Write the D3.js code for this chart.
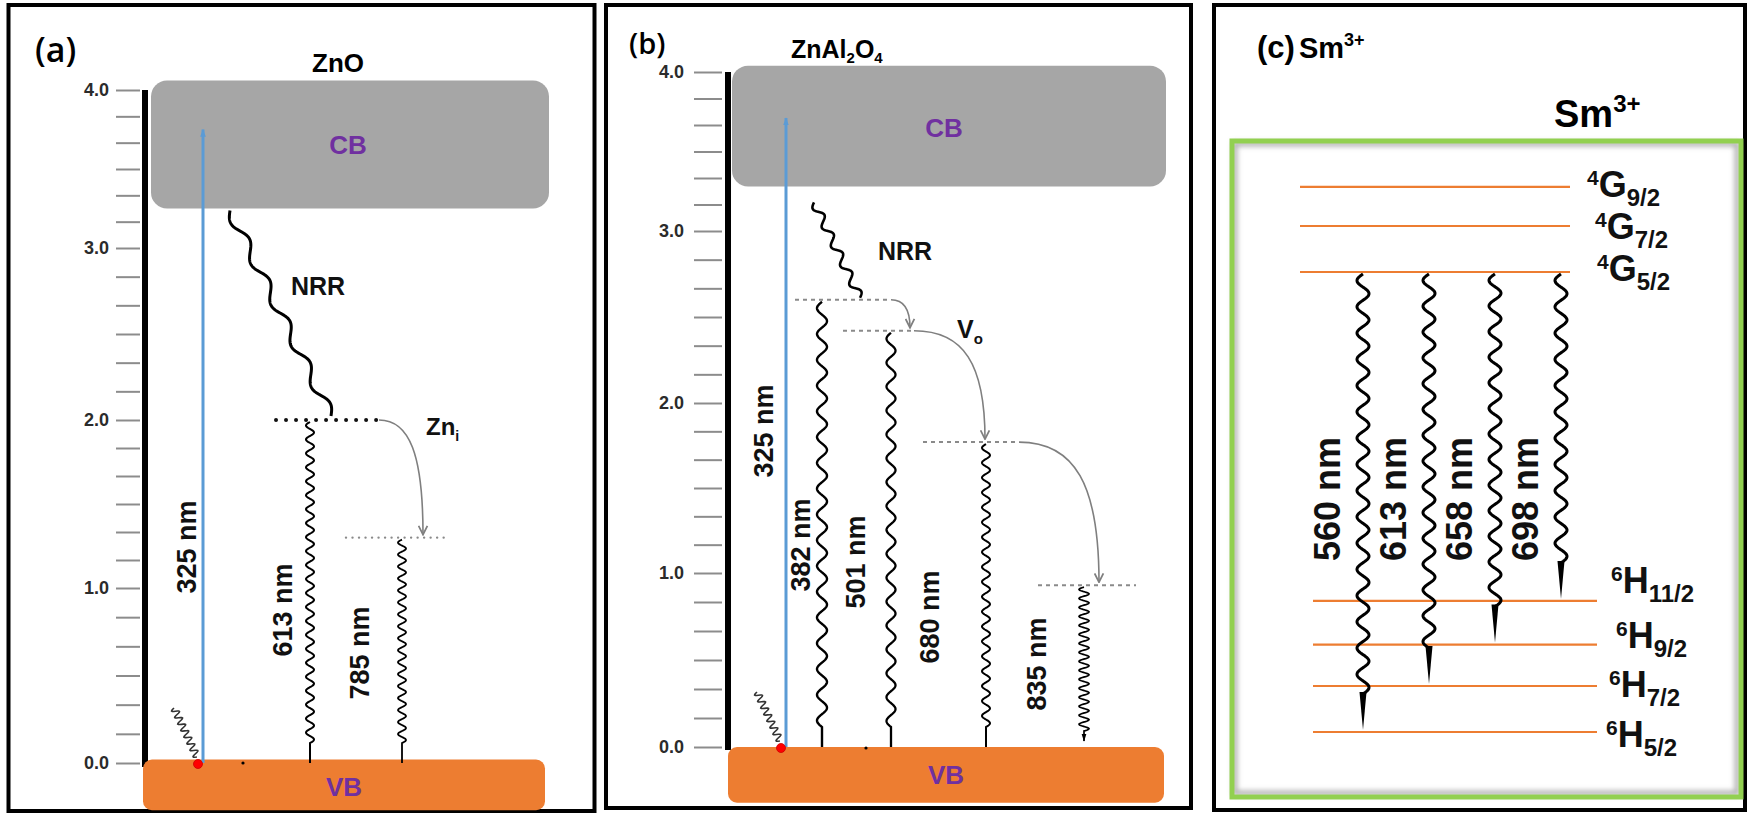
<!DOCTYPE html>
<html>
<head>
<meta charset="utf-8">
<script src="https://cdn.jsdelivr.net/npm/d3@7"></script>
<style>
  html, body { margin: 0; padding: 0; background: #fff; }
  svg { display: block; }
  text { font-family: "Liberation Sans", Arial, Helvetica, sans-serif; font-weight: bold; }
</style>
</head>
<body>
<svg id="chart" width="1749" height="814"></svg>
<script>
// ---------------- data ----------------
// energy axis shared by panels (a) and (b), in eV
const axisTicks = [0, 1, 2, 3, 4];
const axisTickLabels = ["0.0", "1.0", "2.0", "3.0", "4.0"];
const minorDivisions = 6;

// (a) ZnO
const znoCB = [3.25, 4.06];
const znoVB = [-0.27, 0.02];
const znoExcitation = [0, 3.75];          // 325 nm pump
const znoExcitationNm = 325;
const znoNRR = [3.25, 2.0];
const znoDefectE = [2.0, 1.30];           // Zn_i and the lower trap
const znoEmissionNm = [613, 785];
const znoEmissionFrom = [2.0, 1.30];

// (b) ZnAl2O4
const spinelCB = [3.28, 4.04];
const spinelVB = [-0.32, 0.0];
const spinelExcitation = [0, 3.71];
const spinelExcitationNm = 325;
const spinelNRR = [3.18, 2.60];
const spinelDefectE = [2.60, 2.42, 1.77, 0.93];
const spinelEmissionNm = [382, 501, 680, 835];
const spinelEmissionFrom = [2.60, 2.42, 1.77, 0.93];

// (c) Sm3+ levels (relative energy units) and emissions from 4G5/2
const smLevels = ["6H5/2", "6H7/2", "6H9/2", "6H11/2", "4G5/2", "4G7/2", "4G9/2"];
const smLevelE = [0, 1.0, 1.9, 2.85, 10.0, 11.0, 11.85];
const smEmissionNm = [560, 613, 658, 698];
const smEmissionTo = ["6H5/2", "6H7/2", "6H9/2", "6H11/2"];
const smEmitter = "4G5/2";

// ---------------- layout & style ----------------
const C = {
  black: "#000", grey: "#7f7f7f", tick: "#8c8c8c", band: "#a6a6a6",
  vb: "#ed7d31", purple: "#7030a0", blue: "#5b9bd5", red: "#ff0000",
  level: "#ed7d31", green: "#92d050"
};

const A = {
  frame: [8.5, 5, 586, 806],
  yRange: [763, 588, 420, 248, 90],
  axisX: 140, tickLen: 24, tickPad: 7, spineX: 145, spineBottom: 767,
  cbX: [151, 549], vbX: [143, 545],
  exciteX: 203, exciteLabelX: 186, exciteLabelY: 547,
  nrrX: [230, 331], nrrLabel: [318, 295],
  defectX: [[276, 379], [346, 444]],
  emitX: [310, 402],
  emitLabel: [[-28, 610], [-43, 653]],
  emitWave: [[14, 4, 2], [12, 4, 1.8]],
  hopTo: [423],
  cbLabel: [348, 145], vbLabel: [344, 787]
};

const B = {
  frame: [606, 5, 585, 803],
  yRange: [747, 573, 403, 231, 72],
  axisX: 722, tickLen: 28, tickPad: 10, spineX: 728, spineBottom: 750,
  cbX: [732, 1166], vbX: [728, 1164],
  exciteX: 786, exciteLabelX: 763, exciteLabelY: 431,
  nrrX: [814, 860], nrrLabel: [905, 260],
  defectX: [[795, 891], [843, 914], [923, 1019], [1038, 1136]],
  emitX: [822, 891, 986, 1084],
  emitLabel: [[-22, 545], [-36, 562], [-57, 617], [-48, 664]],
  emitWave: [[26, 5, 2.4], [24, 4.5, 2.3], [15, 4, 2], [9, 5, 1.7]],
  hopTo: [910, 985, 1099],
  cbLabel: [944, 128], vbLabel: [946, 775]
};

const S = {
  frame: [1214, 5, 531, 805],
  green: [1232, 141, 509, 656],
  yDomain: [0, 12], yRange: [732, 180],
  lineX: { G: [1300, 1570], H: [1313, 1597] },
  labelX: [1606, 1609, 1616, 1611, 1597, 1595, 1587],
  labelDy: [15, 11, 3, -8, 9, 13, 10],
  emitX: [1363, 1561],
  emitLabelDx: -36, emitLabelY: 499,
  wave: [26, 6, 3], spike: 38
};

const svg = d3.select("#chart");
const defs = svg.append("defs");

function addMarker(id, size, pathD, fill, stroke) {
  defs.append("marker")
    .attr("id", id).attr("viewBox", "0 0 10 10")
    .attr("refX", 9).attr("refY", 5)
    .attr("markerUnits", "userSpaceOnUse")
    .attr("markerWidth", size).attr("markerHeight", size)
    .attr("orient", "auto")
    .append("path").attr("d", pathD)
    .attr("fill", fill).attr("stroke", stroke).attr("stroke-width", 1.6);
}
addMarker("hop", 11, "M1,1 L9,5 L1,9", "none", C.grey);
addMarker("pump", 8, "M0,1.5 L10,5 L0,8.5 Z", C.blue, "none");
addMarker("emit", 8, "M0,2 L10,5 L0,8 Z", C.black, "none");

const shadow = defs.append("filter").attr("id", "soft").attr("x", "-5%").attr("y", "-5%")
  .attr("width", "110%").attr("height", "110%");
shadow.append("feGaussianBlur").attr("stdDeviation", 2.5);

// wavy path between two points; the wave is fitted to whole half-periods
function wavePath(x0, y0, x1, y1, period, amp, tail = 0) {
  const dx = x1 - x0, dy = y1 - y0, len = Math.hypot(dx, dy);
  const ux = dx / len, uy = dy / len, nx = -uy, ny = ux;
  const waveLen = len - tail;
  const halves = Math.max(1, Math.round(waveLen / (period / 2)));
  const p = 2 * waveLen / halves;
  const pts = [];
  for (let s = 0; s <= waveLen + 0.01; s += 0.6) {
    const o = amp * Math.sin(2 * Math.PI * s / p);
    pts.push([x0 + ux * s + nx * o, y0 + uy * s + ny * o]);
  }
  pts.push([x0 + ux * waveLen, y0 + uy * waveLen]);
  if (tail > 0) pts.push([x1, y1]);
  return d3.line()(pts);
}

function frame(g, f) {
  g.append("rect").attr("x", f[0]).attr("y", f[1]).attr("width", f[2]).attr("height", f[3])
    .attr("fill", "none").attr("stroke", C.black).attr("stroke-width", 4);
}

function energyAxis(g, L, y) {
  const minor = [];
  axisTicks.slice(0, -1).forEach(t => {
    d3.range(1, minorDivisions).forEach(k => minor.push(t + k / minorDivisions));
  });
  const minorAxis = d3.axisLeft(y).tickValues(minor).tickSize(L.tickLen).tickFormat("");
  const majorAxis = d3.axisLeft(y).tickValues(axisTicks).tickSize(L.tickLen)
    .tickPadding(L.tickPad).tickFormat((d, i) => axisTickLabels[i]);
  [minorAxis, majorAxis].forEach(ax => {
    const a = g.append("g").attr("transform", `translate(${L.axisX},0)`).call(ax);
    a.select(".domain").remove();
    a.selectAll("line").attr("stroke", C.tick).attr("stroke-width", 2);
    a.selectAll("text").attr("font-size", 18).attr("fill", "#2b2b2b")
      .style("font-family", '"Liberation Sans", Arial, sans-serif');
  });
  g.append("line").attr("x1", L.spineX).attr("x2", L.spineX)
    .attr("y1", y(axisTicks[axisTicks.length - 1])).attr("y2", L.spineBottom)
    .attr("stroke", C.black).attr("stroke-width", 6);
}

function bands(g, L, y, cb, vb) {
  g.append("rect").attr("x", L.cbX[0]).attr("y", y(cb[1]))
    .attr("width", L.cbX[1] - L.cbX[0]).attr("height", y(cb[0]) - y(cb[1]))
    .attr("rx", 16).attr("fill", C.band);
  g.append("rect").attr("x", L.vbX[0]).attr("y", y(vb[1]))
    .attr("width", L.vbX[1] - L.vbX[0]).attr("height", y(vb[0]) - y(vb[1]))
    .attr("rx", 9).attr("fill", C.vb);
  g.append("text").attr("x", L.cbLabel[0]).attr("y", L.cbLabel[1]).attr("dy", "0.35em")
    .attr("text-anchor", "middle").attr("font-size", 26).attr("fill", C.purple).text("CB");
  g.append("text").attr("x", L.vbLabel[0]).attr("y", L.vbLabel[1]).attr("dy", "0.35em")
    .attr("text-anchor", "middle").attr("font-size", 26).attr("fill", C.purple).text("VB");
}

function rotLabel(g, x, y, txt, size) {
  g.append("text").attr("transform", `translate(${x},${y}) rotate(-90)`)
    .attr("text-anchor", "middle").attr("dy", "0.36em")
    .attr("font-size", size).attr("fill", "#111").text(txt);
}

function excitation(g, L, y, ex, nm) {
  g.append("line").attr("x1", L.exciteX).attr("x2", L.exciteX)
    .attr("y1", y(ex[0])).attr("y2", y(ex[1]))
    .attr("stroke", C.blue).attr("stroke-width", 3).attr("marker-end", "url(#pump)");
  rotLabel(g, L.exciteLabelX, L.exciteLabelY, `${nm} nm`, 27);
  // pumped electron at the valence band edge, with its thermalisation squiggle
  g.append("path").attr("d", wavePath(L.exciteX - 29, y(ex[0]) - 55, L.exciteX - 6, y(ex[0]) - 6, 7, 3.5))
    .attr("fill", "none").attr("stroke", "#333").attr("stroke-width", 1.6);
  g.append("circle").attr("cx", L.exciteX - 5).attr("cy", y(ex[0]) + 1).attr("r", 4.5)
    .attr("fill", C.red).attr("stroke", "#c00").attr("stroke-width", 0.8);
}

function emissions(g, L, y, from, nms) {
  from.forEach((e, i) => {
    const x = L.emitX[i], [per, amp, sw] = L.emitWave[i];
    const last = i === from.length - 1 && L === B;
    g.append("path").attr("d", wavePath(x, y(e) + 2, x, y(0) - (last ? 6 : 0), per, amp, last ? 10 : 20))
      .attr("fill", "none").attr("stroke", C.black).attr("stroke-width", sw)
      .attr("marker-end", last ? "url(#emit)" : null);
    rotLabel(g, x + L.emitLabel[i][0], L.emitLabel[i][1], `${nms[i]} nm`, 27);
  });
}

function hop(g, x0, y0, x1, y1) {
  const d = d3.path();
  d.moveTo(x0, y0);
  d.bezierCurveTo(x0 + (x1 - x0) * 0.7, y0, x1, y0 + (y1 - y0) * 0.3, x1, y1 - 3);
  g.append("path").attr("d", d.toString()).attr("fill", "none")
    .attr("stroke", C.grey).attr("stroke-width", 1.6).attr("marker-end", "url(#hop)");
}

// ================= (a) ZnO =================
{
  const g = svg.append("g");
  const y = d3.scaleLinear().domain(axisTicks).range(A.yRange);
  frame(g, A.frame);
  g.append("text").attr("x", 35).attr("y", 62).attr("font-size", 34)
    .style("font-family", '"Open Sans", sans-serif').style("font-weight", 600).text("(a)");
  g.append("text").attr("x", 338).attr("y", 72).attr("text-anchor", "middle")
    .attr("font-size", 26).text("ZnO");
  energyAxis(g, A, y);
  bands(g, A, y, znoCB, znoVB);
  excitation(g, A, y, znoExcitation, znoExcitationNm);

  // non-radiative relaxation from the CB edge to Zn_i
  g.append("path").attr("d", wavePath(A.nrrX[0], y(znoNRR[0]) + 2, A.nrrX[1], y(znoNRR[1]) - 4, 46, 5))
    .attr("fill", "none").attr("stroke", C.black).attr("stroke-width", 3);
  g.append("text").attr("x", A.nrrLabel[0]).attr("y", A.nrrLabel[1]).attr("text-anchor", "middle")
    .attr("font-size", 25).attr("fill", "#111").text("NRR");

  // defect levels
  znoDefectE.forEach((e, i) => {
    const [x0, x1] = A.defectX[i];
    g.append("line").attr("x1", x0).attr("x2", x1).attr("y1", y(e)).attr("y2", y(e))
      .attr("stroke", i === 0 ? "#111" : "#8a8a8a")
      .attr("stroke-width", i === 0 ? 4 : 2.4)
      .attr("stroke-dasharray", i === 0 ? "0.01 10" : "0.01 6.5")
      .attr("stroke-linecap", "round");
  });
  hop(g, A.defectX[0][1], y(znoDefectE[0]), A.hopTo[0], y(znoDefectE[1]));
  const zn = g.append("text").attr("x", 426).attr("y", 435).attr("font-size", 24).attr("fill", "#111");
  zn.append("tspan").text("Zn");
  zn.append("tspan").attr("font-size", 14).attr("dy", 6).text("i");

  emissions(g, A, y, znoEmissionFrom, znoEmissionNm);
  g.append("circle").attr("cx", 243).attr("cy", y(0)).attr("r", 1.6).attr("fill", C.black);
}

// ================= (b) ZnAl2O4 =================
{
  const g = svg.append("g");
  const y = d3.scaleLinear().domain(axisTicks).range(B.yRange);
  frame(g, B.frame);
  g.append("text").attr("x", 629).attr("y", 54).attr("font-size", 29)
    .style("font-family", '"Open Sans", sans-serif').style("font-weight", 600).text("(b)");
  const t = g.append("text").attr("x", 791).attr("y", 58).attr("font-size", 25);
  t.append("tspan").text("ZnAl");
  t.append("tspan").attr("font-size", 15).attr("dy", 5).text("2");
  t.append("tspan").attr("dy", -5).text("O");
  t.append("tspan").attr("font-size", 15).attr("dy", 5).text("4");
  energyAxis(g, B, y);
  bands(g, B, y, spinelCB, spinelVB);
  excitation(g, B, y, spinelExcitation, spinelExcitationNm);

  g.append("path").attr("d", wavePath(B.nrrX[0], y(spinelNRR[0]), B.nrrX[1], y(spinelNRR[1]) - 2, 21, 4))
    .attr("fill", "none").attr("stroke", C.black).attr("stroke-width", 2.6);
  g.append("text").attr("x", B.nrrLabel[0]).attr("y", B.nrrLabel[1]).attr("text-anchor", "middle")
    .attr("font-size", 25).attr("fill", "#111").text("NRR");

  spinelDefectE.forEach((e, i) => {
    const [x0, x1] = B.defectX[i];
    g.append("line").attr("x1", x0).attr("x2", x1).attr("y1", y(e)).attr("y2", y(e))
      .attr("stroke", "#8a8a8a").attr("stroke-width", 2).attr("stroke-dasharray", "4 4");
    if (i < spinelDefectE.length - 1) {
      hop(g, x1, y(e), B.hopTo[i], y(spinelDefectE[i + 1]));
    }
  });
  const vo = g.append("text").attr("x", 957).attr("y", 338).attr("font-size", 25).attr("fill", "#111");
  vo.append("tspan").text("V");
  vo.append("tspan").attr("font-size", 15).attr("dy", 6).text("o");

  emissions(g, B, y, spinelEmissionFrom, spinelEmissionNm);
  g.append("circle").attr("cx", 866).attr("cy", y(0) + 1).attr("r", 1.6).attr("fill", C.black);
}

// ================= (c) Sm3+ =================
{
  const g = svg.append("g");
  const y = d3.scaleLinear().domain(S.yDomain).range(S.yRange);
  const xEmit = d3.scalePoint().domain(smEmissionNm).range(S.emitX);
  const levelE = new Map(smLevels.map((n, i) => [n, smLevelE[i]]));
  frame(g, S.frame);

  const tag = g.append("text").attr("x", 1257).attr("y", 58).attr("font-size", 31);
  tag.append("tspan").text("(c)");
  tag.append("tspan").attr("dx", 4).attr("font-size", 29).text("Sm");
  tag.append("tspan").attr("font-size", 18).attr("dy", -12).text("3+");

  const ttl = g.append("text").attr("x", 1554).attr("y", 127).attr("font-size", 38);
  ttl.append("tspan").text("Sm");
  ttl.append("tspan").attr("font-size", 24).attr("dy", -15).text("3+");

  // frame around the level scheme, with a soft inner shadow
  const [gx, gy, gw, gh] = S.green;
  g.append("rect").attr("x", gx + 3).attr("y", gy + 3).attr("width", gw - 7).attr("height", gh - 7)
    .attr("fill", "none").attr("stroke", "#b0b0b0").attr("stroke-width", 5).attr("filter", "url(#soft)");
  g.append("rect").attr("x", gx).attr("y", gy).attr("width", gw).attr("height", gh)
    .attr("fill", "none").attr("stroke", C.green).attr("stroke-width", 5);

  // levels
  smLevels.forEach((name, i) => {
    const letter = name[1];
    const [x0, x1] = S.lineX[letter];
    const yy = y(smLevelE[i]);
    g.append("line").attr("x1", x0).attr("x2", x1).attr("y1", yy).attr("y2", yy)
      .attr("stroke", C.level).attr("stroke-width", 2.2);
    const lab = g.append("text").attr("x", S.labelX[i]).attr("y", yy + S.labelDy[i])
      .attr("font-size", 36).attr("fill", "#111");
    lab.append("tspan").attr("font-size", 21).attr("dy", -12).text(name[0]);
    lab.append("tspan").attr("dy", 12).text(letter);
    lab.append("tspan").attr("font-size", 24).attr("dy", 9).text(name.slice(2));
  });

  // radiative transitions out of 4G5/2
  const top = y(levelE.get(smEmitter));
  smEmissionNm.forEach((nm, i) => {
    const x = xEmit(nm);
    const bottom = y(levelE.get(smEmissionTo[i]));
    const [per, amp, sw] = S.wave;
    g.append("path").attr("d", wavePath(x, top + 2, x, bottom - S.spike, per, amp))
      .attr("fill", "none").attr("stroke", C.black).attr("stroke-width", sw);
    g.append("path")
      .attr("d", d3.line()([[x - 3.5, bottom - S.spike - 2], [x + 3.5, bottom - S.spike - 2], [x, bottom - 2]]) + "Z")
      .attr("fill", C.black);
    rotLabel(g, x + S.emitLabelDx, S.emitLabelY, `${nm} nm`, 36);
  });
}
</script>
</body>
</html>
